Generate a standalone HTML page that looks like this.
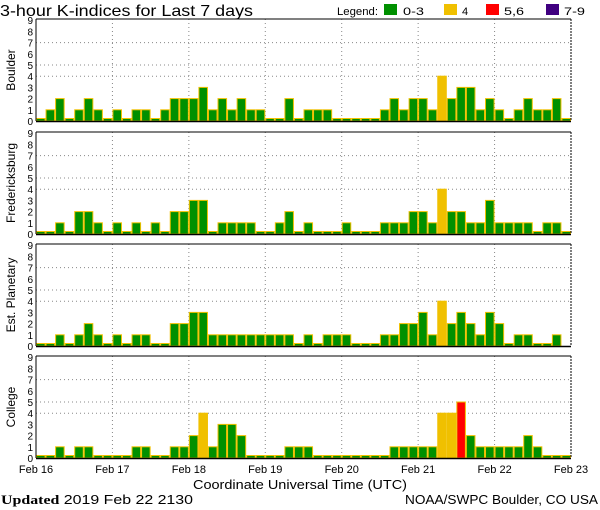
<!DOCTYPE html>
<html><head><meta charset="utf-8"><style>
html,body{margin:0;padding:0;background:#fff;width:600px;height:510px;overflow:hidden}
svg{display:block}
text{font-family:"Liberation Sans",sans-serif;fill:#000}
</style></head><body>
<svg id="s" width="600" height="510" xmlns="http://www.w3.org/2000/svg">
<text x="0" y="16" font-size="16" textLength="253" lengthAdjust="spacingAndGlyphs">3-hour K-indices for Last 7 days</text>
<text x="337" y="15" font-size="11" textLength="41" lengthAdjust="spacingAndGlyphs">Legend:</text>
<rect x="384" y="4" width="13" height="11" fill="#009000"/><text x="403" y="15" font-size="11" textLength="21" lengthAdjust="spacingAndGlyphs">0-3</text>
<rect x="444" y="4" width="13" height="11" fill="#f0c000"/><text x="462" y="15" font-size="11">4</text>
<rect x="486" y="4" width="13" height="11" fill="#ff0000"/><text x="504" y="15" font-size="11" textLength="20" lengthAdjust="spacingAndGlyphs">5,6</text>
<rect x="546" y="4" width="13" height="11" fill="#400080"/><text x="564" y="15" font-size="11" textLength="21" lengthAdjust="spacingAndGlyphs">7-9</text>
<text x="36" y="473" font-size="11" text-anchor="middle">Feb 16</text>
<text x="112.4" y="473" font-size="11" text-anchor="middle">Feb 17</text>
<text x="188.9" y="473" font-size="11" text-anchor="middle">Feb 18</text>
<text x="265.3" y="473" font-size="11" text-anchor="middle">Feb 19</text>
<text x="341.7" y="473" font-size="11" text-anchor="middle">Feb 20</text>
<text x="418.1" y="473" font-size="11" text-anchor="middle">Feb 21</text>
<text x="494.6" y="473" font-size="11" text-anchor="middle">Feb 22</text>
<text x="571" y="473" font-size="11" text-anchor="middle">Feb 23</text>
<text x="193" y="489" font-size="13" textLength="214" lengthAdjust="spacingAndGlyphs">Coordinate Universal Time (UTC)</text>
<text x="1" y="504" font-size="13" textLength="192" lengthAdjust="spacingAndGlyphs"><tspan font-weight="bold" style="font-family:'Liberation Serif',serif">Updated</tspan> 2019 Feb 22 2130</text>
<text x="405" y="504" font-size="13" textLength="193" lengthAdjust="spacingAndGlyphs">NOAA/SWPC Boulder, CO USA</text>
<g id="g"></g>
</svg>
<script>
var data=[
["Boulder",19,[0,1,2,0,1,2,1,0,1,0,1,1,0,1,2,2,2,3,1,2,1,2,1,1,0,0,2,0,1,1,1,0,0,0,0,0,1,2,1,2,2,1,4,2,3,3,1,2,1,0,1,2,1,1,2,0]],
["Fredericksburg",132,[0,0,1,0,2,2,1,0,1,0,1,0,1,0,2,2,3,3,0,1,1,1,1,0,0,1,2,0,1,0,0,0,1,0,0,0,1,1,1,2,2,1,4,2,2,1,1,3,1,1,1,1,0,1,1,0]],
["Est. Planetary",244,[0,0,1,0,1,2,1,0,1,0,1,1,0,0,2,2,3,3,1,1,1,1,1,1,1,1,1,0,1,0,1,1,1,0,0,0,1,1,2,2,3,1,4,2,3,2,1,3,2,0,1,1,0,0,1,-1]],
["College",356,[0,0,1,0,1,1,0,0,0,0,1,1,0,0,1,1,2,4,1,3,3,2,0,0,0,0,1,1,1,0,0,0,0,0,0,0,0,1,1,1,1,1,4,4,5,2,1,1,1,1,1,2,1,0,0,0]]];
var L=36,R=571,W=(R-L)/56,h="",U=11.2;
data.forEach(function(p){
 var T=p[1],B=T+102;
 [4,5,7].forEach(function(k){var y=B-U*k;h+='<line x1="'+L+'" x2="'+R+'" y1="'+y+'" y2="'+y+'" stroke="#888" stroke-dasharray="1,3"/>';});
 for(var d=1;d<7;d++){var x=L+d*8*W;h+='<line x1="'+x+'" x2="'+x+'" y1="'+T+'" y2="'+B+'" stroke="#888" stroke-dasharray="1,3"/>';}
 p[2].forEach(function(v,i){if(v<0)return;var x=L+i*W,top=v==0?B-2.5:B-U*v;
  var c=v>=7?"#400080":v>=5?"#ff0000":v==4?"#f0c000":"#009000";
  h+='<rect x="'+(x+0.5)+'" y="'+top+'" width="'+(W-1)+'" height="'+(B-top)+'" fill="'+c+'" stroke="#f0c000" stroke-width="1"/>';});
 h+='<line x1="'+L+'" x2="'+R+'" y1="'+T+'" y2="'+T+'" stroke="#000"/>';
 h+='<line x1="'+L+'" x2="'+R+'" y1="'+(B+0.5)+'" y2="'+(B+0.5)+'" stroke="#000" stroke-width="1.5"/>';
 h+='<line x1="'+L+'" x2="'+L+'" y1="'+T+'" y2="'+B+'" stroke="#000"/>';
 h+='<line x1="'+R+'" x2="'+R+'" y1="'+T+'" y2="'+B+'" stroke="#000" stroke-dasharray="2,1"/>';
 for(var k=0;k<=9;k++){h+='<text x="33" y="'+(B-U*k+4)+'" font-size="10" text-anchor="end">'+k+'</text>';}
 h+='<text transform="translate(15,'+(T+51)+') rotate(-90)" font-size="12" text-anchor="middle">'+p[0]+'</text>';
});
document.getElementById("g").innerHTML=h;
</script>
</body></html>
